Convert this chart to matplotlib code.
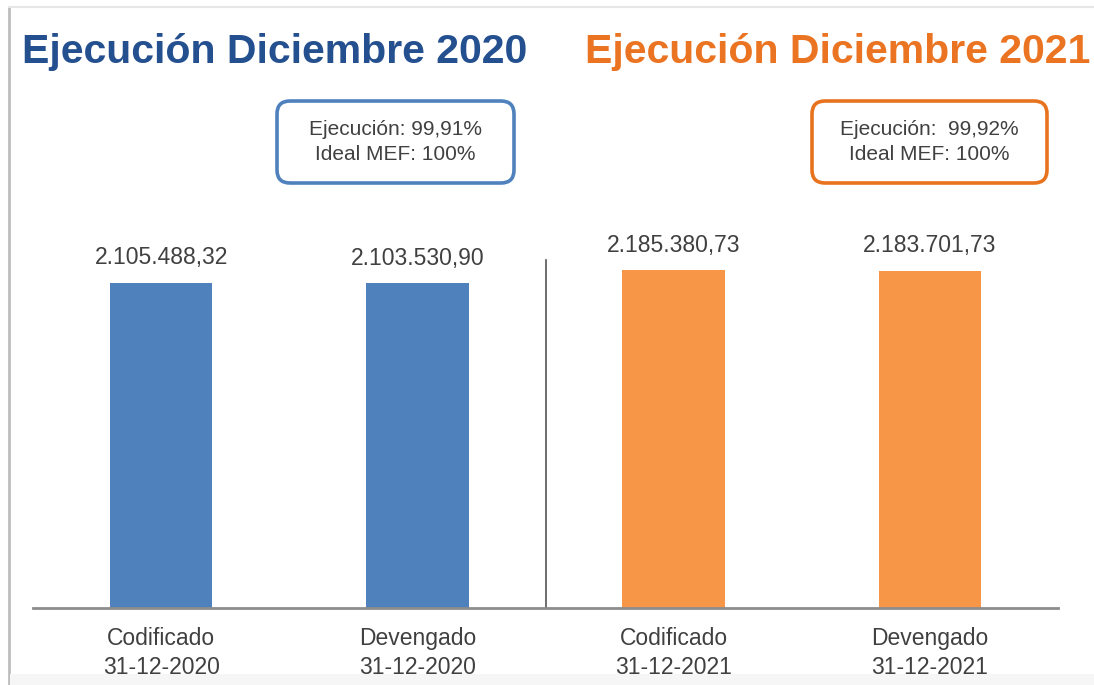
import matplotlib
matplotlib.use("Agg")
import matplotlib.pyplot as plt
from matplotlib.patches import FancyBboxPatch, Rectangle
from matplotlib.lines import Line2D

plt.rcParams['font.family'] = ['Liberation Sans', 'DejaVu Sans']

categories = ["Codificado\n31-12-2020", "Devengado\n31-12-2020",
              "Codificado\n31-12-2021", "Devengado\n31-12-2021"]
values = [2105488.32, 2103530.90, 2185380.73, 2183701.73]
value_labels = ["2.105.488,32", "2.103.530,90", "2.185.380,73", "2.183.701,73"]
titles = ["Ejecución Diciembre 2020", "Ejecución Diciembre 2021"]
box_texts = ["Ejecución: 99,91%\nIdeal MEF: 100%", "Ejecución:  99,92%\nIdeal MEF: 100%"]

blue_bar = "#4F81BD"
orange_bar = "#F79646"
bar_colors = [blue_bar, blue_bar, orange_bar, orange_bar]

fig = plt.figure(figsize=(10.94, 6.85), dpi=100)
ax = fig.add_axes([33 / 1094, 77 / 685, 1025 / 1094, 508 / 685])

x = list(range(len(values)))
ax.bar(x, values, width=0.4, color=bar_colors, zorder=2)
ax.set_xlim(-0.5, 3.5)
ax.set_ylim(0, 3.288e6)

for xi, v, lab in zip(x, values, value_labels):
    ax.annotate(lab, (xi, v), xytext=(0, 18), textcoords="offset points",
                ha="center", va="center", fontsize=16.5, color="#404040")

# divider between years
ax.plot([1.5, 1.5], [0, 2.25e6], color="#555555", lw=1.2, zorder=1)

for s in ["top", "right", "left"]:
    ax.spines[s].set_visible(False)
ax.spines["bottom"].set_color("#8c8c8c")
ax.spines["bottom"].set_linewidth(2)
ax.set_yticks([])
ax.set_xticks(x)
ax.set_xticklabels(categories, fontsize=16.5, color="#404040", linespacing=1.3)
ax.tick_params(axis="x", length=0, pad=14)

# titles
fig.text(275 / 1094, 1 - 52 / 685, titles[0], ha="center", va="center",
         fontsize=29.5, fontweight="bold", color="#24508F")
fig.text(838 / 1094, 1 - 52 / 685, titles[1], ha="center", va="center",
         fontsize=29.5, fontweight="bold", color="#EA7422")

# boxes (inches, origin bottom-left)
boxes = [(277, 101, 514, 183, "#4F81BD"), (812, 101, 1047, 183, "#E8731E")]
for (x0, y0, x1, y1, ec), txt in zip(boxes, box_texts):
    p = FancyBboxPatch((x0 / 100, (685 - y1) / 100), (x1 - x0) / 100, (y1 - y0) / 100,
                       boxstyle="round,pad=0,rounding_size=0.13",
                       transform=fig.dpi_scale_trans, fc="white", ec=ec, lw=2.6)
    fig.patches.append(p)
    fig.text((x0 + x1) / 2 / 1094, 1 - (y0 + y1) / 2 / 685, txt, ha="center", va="center",
             fontsize=15, color="#404040", linespacing=1.4)

# screenshot frame
fig.add_artist(Line2D([9 / 1094, 9 / 1094], [0, 1 - 8 / 685], color="#bdbdbd", lw=2))
fig.add_artist(Line2D([9 / 1094, 1], [1 - 7 / 685, 1 - 7 / 685], color="#e6e6e6", lw=1.5))
fig.add_artist(Rectangle((10 / 1094, 0), 1, 11 / 685, transform=fig.transFigure,
                         fc="#f6f6f6", ec="none", zorder=10))

fig.savefig("out.png", dpi=100)
